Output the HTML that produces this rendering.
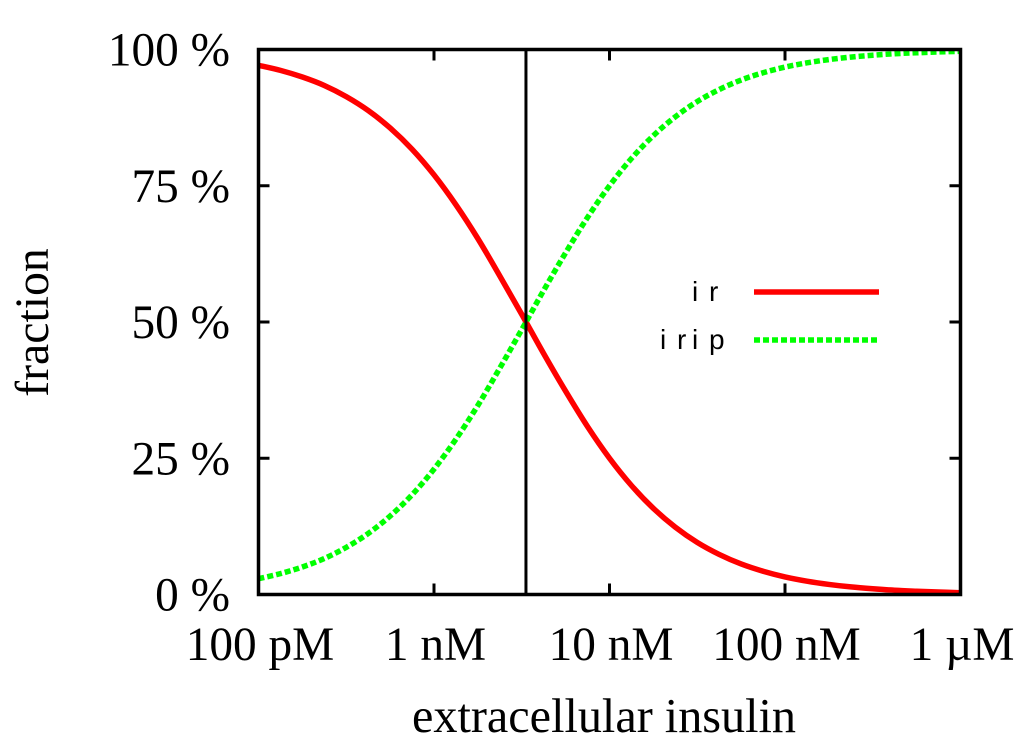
<!DOCTYPE html>
<html>
<head>
<meta charset="utf-8">
<style>
html,body{margin:0;padding:0;background:#fff;}
svg{display:block;}
text{font-family:"Liberation Serif",serif;fill:#000;}
.lg{font-family:"Liberation Sans",sans-serif;font-size:28px;}
</style>
</head>
<body>
<svg id="chart" width="1024" height="752" viewBox="0 0 1024 752" xmlns="http://www.w3.org/2000/svg">
<rect x="0" y="0" width="1024" height="752" fill="#fff"/>
<g id="curves"></g>
<g id="axes"></g>
<text font-size="47.8" text-anchor="middle" transform="translate(48,322.5) rotate(-90)">fraction</text>
<text font-size="48.2" text-anchor="middle" x="604" y="732">extracellular insulin</text>
<g>
<text class="lg" x="692 709" y="301">ir</text>
<line id="legend-ir" x1="754" x2="879" y1="292" y2="292" stroke="#ff0000" stroke-width="5.5"/>
<text class="lg" x="660 677 692 709" y="349">irip</text>
<line id="legend-irip" x1="754" x2="879" y1="340" y2="340" stroke="#00ff00" stroke-width="5.5" stroke-dasharray="6 3"/>
</g>
</svg>
<script>
var logConcNm = [-1,-0.875,-0.75,-0.625,-0.5,-0.375,-0.25,-0.125,0,0.125,0.25,0.375,0.5,0.625,0.75,0.875,1,1.125,1.25,1.375,1.5,1.625,1.75,1.875,2,2.125,2.25,2.375,2.5,2.625,2.75,2.875,3];
var irValues = [97.1,96.17,94.95,93.4,91.35,88.8,85.6,81.7,77.0,71.5,65.3,58.45,51.4,44.2,37.3,30.8,25.0,20.0,15.8,12.35,9.55,7.35,5.6,4.27,3.23,2.45,1.85,1.39,1.05,0.78,0.6,0.45,0.33];
var iripValues = [2.9,3.83,5.05,6.6,8.65,11.2,14.4,18.3,23.0,28.5,34.7,41.55,48.6,55.8,62.7,69.2,75.0,80.0,84.2,87.65,90.45,92.65,94.4,95.73,96.77,97.55,98.15,98.61,98.95,99.22,99.4,99.55,99.67];
var xTickLogs = [-1,0,1,2,3];
var xTickLabels = ['100 pM','1 nM','10 nM','100 nM','1 \u00b5M'];
var yTicks = [0,25,50,75,100];
var yTickLabels = ['0 %','25 %','50 %','75 %','100 %'];
var markerLogConc = 0.524;

var NS = 'http://www.w3.org/2000/svg';
var L = 258.5, R = 960.5, T = 49.5, B = 594.5;
function xScale(v){ return L + (v + 1) / 4 * (R - L); }
function yScale(v){ return B - v / 100 * (B - T); }
function mk(tag, attrs, parent){
  var el = document.createElementNS(NS, tag);
  for (var k in attrs) el.setAttribute(k, attrs[k]);
  parent.appendChild(el);
  return el;
}
var axes = document.getElementById('axes');
var curves = document.getElementById('curves');

function smoothPath(vals){
  var p = vals.map(function(v, i){ return [xScale(logConcNm[i]), yScale(v)]; });
  var d = 'M' + p[0][0].toFixed(2) + ' ' + p[0][1].toFixed(2);
  for (var i = 0; i < p.length - 1; i++) {
    var p0 = p[Math.max(i - 1, 0)], p1 = p[i], p2 = p[i + 1], p3 = p[Math.min(i + 2, p.length - 1)];
    var c1x = p1[0] + (p2[0] - p0[0]) / 6, c1y = p1[1] + (p2[1] - p0[1]) / 6;
    var c2x = p2[0] - (p3[0] - p1[0]) / 6, c2y = p2[1] - (p3[1] - p1[1]) / 6;
    d += 'C' + c1x.toFixed(2) + ' ' + c1y.toFixed(2) + ' ' + c2x.toFixed(2) + ' ' + c2y.toFixed(2) + ' ' + p2[0].toFixed(2) + ' ' + p2[1].toFixed(2);
  }
  return d;
}
var lineIr = mk('path', {d: smoothPath(irValues), fill:'none', stroke:'#ff0000', 'stroke-width':5.5, 'stroke-linejoin':'round'}, curves);


var lineIrip = mk('path', {d: smoothPath(iripValues), fill:'none', stroke:'#00ff00', 'stroke-width':5.5, 'stroke-dasharray':'6 3'}, curves);



var marker = mk('line', {x1:xScale(markerLogConc), x2:xScale(markerLogConc), y1:T, y2:B, stroke:'#000', 'stroke-width':3}, axes);



xTickLogs.forEach(function(v, i){
  var x = xScale(v);
  if (i > 0 && i < xTickLogs.length - 1) {
    var t1 = mk('line', {x1:x, x2:x, y1:B, y2:B - 11, stroke:'#000', 'stroke-width':3}, axes);
    
    
    var t2 = mk('line', {x1:x, x2:x, y1:T, y2:T + 11, stroke:'#000', 'stroke-width':3}, axes);
    
    
  }
  var lab = mk('text', {x:x + 1.5, y:660, 'font-size':47.3, 'text-anchor':'middle'}, axes);
  lab.textContent = xTickLabels[i];
  
  
});

yTicks.forEach(function(v, i){
  var y = yScale(v);
  if (i > 0 && i < yTicks.length - 1) {
    var t1 = mk('line', {x1:L, x2:L + 11, y1:y, y2:y, stroke:'#000', 'stroke-width':3}, axes);
    
    
    var t2 = mk('line', {x1:R, x2:R - 11, y1:y, y2:y, stroke:'#000', 'stroke-width':3}, axes);
    
    
  }
  var lab = mk('text', {x:230, y:y + 16, 'font-size':47.3, 'text-anchor':'end'}, axes);
  lab.textContent = yTickLabels[i];
  
  
});

var frame = mk('rect', {x:L, y:T, width:R - L, height:B - T, fill:'none', stroke:'#000', 'stroke-width':3.5}, axes);


</script>
</body>
</html>
